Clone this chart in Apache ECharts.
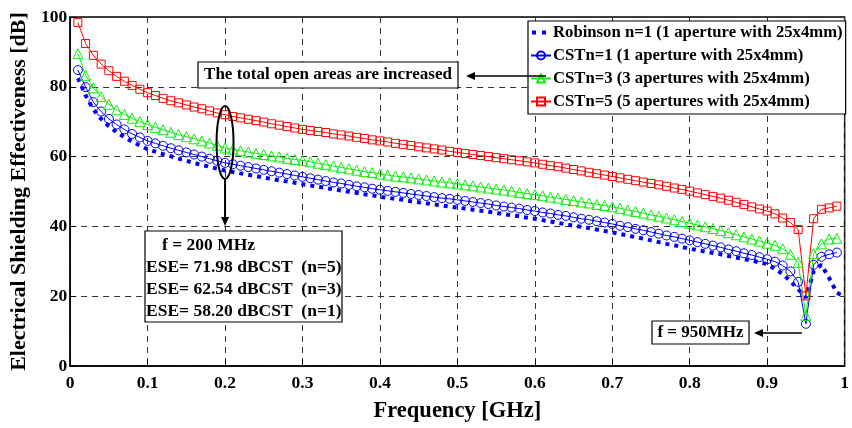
<!DOCTYPE html>
<html><head><meta charset="utf-8">
<script src="https://cdn.jsdelivr.net/npm/echarts@6/dist/echarts.min.js"></script>
<style>html,body{margin:0;padding:0;background:#fff}#c{width:852px;height:428px}</style>
</head><body><div id="c"></div><script>
// ---------- data ----------
const freq = [0.01,0.02,0.03,0.04,0.05,0.06,0.07,0.08,0.09,0.10,
0.11,0.12,0.13,0.14,0.15,0.16,0.17,0.18,0.19,0.20,
0.21,0.22,0.23,0.24,0.25,0.26,0.27,0.28,0.29,0.30,
0.31,0.32,0.33,0.34,0.35,0.36,0.37,0.38,0.39,0.40,
0.41,0.42,0.43,0.44,0.45,0.46,0.47,0.48,0.49,0.50,
0.51,0.52,0.53,0.54,0.55,0.56,0.57,0.58,0.59,0.60,
0.61,0.62,0.63,0.64,0.65,0.66,0.67,0.68,0.69,0.70,
0.71,0.72,0.73,0.74,0.75,0.76,0.77,0.78,0.79,0.80,
0.81,0.82,0.83,0.84,0.85,0.86,0.87,0.88,0.89,0.90,
0.91,0.92,0.93,0.94,0.95,0.96,0.97,0.98,0.99,1.00];

const robinson = [82.5,77.5,73.5,70.8,68.7,67.0,65.6,64.3,63.2,62.1,
61.4,60.7,60.1,59.4,58.8,58.2,57.6,57.1,56.5,56.0,
55.6,55.2,54.8,54.4,54.0,53.6,53.2,52.9,52.5,52.1,
51.7,51.4,51.0,50.6,50.3,49.9,49.6,49.2,48.9,48.5,
48.2,47.9,47.6,47.2,46.9,46.6,46.3,46.0,45.7,45.4,
45.1,44.8,44.5,44.2,43.9,43.5,43.2,42.9,42.5,42.2,
41.8,41.4,41.0,40.6,40.2,39.9,39.5,39.1,38.7,38.3,
37.8,37.4,36.9,36.5,36.0,35.5,35.0,34.6,34.1,33.6,
33.2,32.8,32.4,32.0,31.5,31.1,30.6,30.2,29.7,29.2,
27.8,26.4,24.3,22.0,19.6,27.1,29.0,25.2,21.0,19.8];

const cstN1 = [84.8,79.9,75.6,72.9,70.8,69.2,67.8,66.5,65.5,64.5,
63.8,63.1,62.4,61.8,61.2,60.6,60.0,59.4,58.8,58.2,
57.8,57.4,57.0,56.6,56.2,55.8,55.4,55.0,54.6,54.2,
53.8,53.4,53.0,52.6,52.3,51.9,51.5,51.2,50.8,50.5,
50.2,49.9,49.6,49.3,49.0,48.7,48.4,48.1,47.9,47.6,
47.3,47.0,46.7,46.4,46.0,45.7,45.4,45.1,44.7,44.4,
44.0,43.7,43.3,43.0,42.6,42.2,41.9,41.5,41.1,40.7,
40.2,39.8,39.3,38.9,38.4,37.9,37.4,37.0,36.5,36.0,
35.5,35.0,34.5,34.0,33.4,32.9,32.3,31.8,31.2,30.6,
29.9,28.8,27.1,24.1,12.1,29.0,31.3,32.0,32.5];

const cstN3 = [89.5,83.3,79.7,77.2,75.0,73.4,72.1,71.0,70.1,69.2,
68.4,67.7,67.0,66.3,65.7,65.1,64.5,63.9,63.2,62.5,
62.1,61.7,61.3,60.9,60.6,60.2,59.9,59.5,59.2,58.9,
58.5,58.1,57.7,57.3,56.9,56.5,56.1,55.7,55.4,55.0,
54.7,54.4,54.2,53.9,53.6,53.3,53.0,52.7,52.5,52.2,
51.9,51.6,51.3,51.0,50.7,50.4,50.1,49.7,49.4,49.1,
48.8,48.4,48.1,47.7,47.4,47.0,46.7,46.3,46.0,45.6,
45.2,44.7,44.3,43.8,43.3,42.9,42.4,41.9,41.4,40.9,
40.4,39.9,39.4,38.8,38.2,37.6,37.0,36.4,35.8,35.2,
34.6,33.6,32.0,29.7,14.5,32.2,35.0,36.4,36.6];

const cstN5 = [98.4,92.4,89.0,86.5,84.6,83.0,81.6,80.4,79.3,78.3,
77.5,76.7,76.0,75.4,74.8,74.2,73.7,73.1,72.5,72.0,
71.5,71.1,70.7,70.3,69.9,69.4,69.0,68.6,68.2,67.8,
67.5,67.2,66.9,66.5,66.2,65.9,65.5,65.2,64.8,64.5,
64.2,63.8,63.5,63.2,62.8,62.5,62.2,61.9,61.5,61.2,
60.9,60.6,60.3,60.0,59.7,59.4,59.1,58.8,58.5,58.2,
57.8,57.4,57.1,56.7,56.3,55.9,55.5,55.1,54.7,54.3,
53.9,53.5,53.1,52.7,52.3,51.9,51.5,51.0,50.6,50.1,
49.6,49.1,48.6,48.1,47.5,46.9,46.3,45.6,45.0,44.4,
43.6,42.4,41.1,39.1,20.1,42.2,44.9,45.3,45.8];

const xTickLabels = ['0','0.1','0.2','0.3','0.4','0.5','0.6','0.7','0.8','0.9','1'];
const yTickLabels = ['0','20','40','60','80','100'];
const seriesNames = [
  'Robinson n=1 (1 aperture with 25x4mm)',
  'CSTn=1 (1 aperture with 25x4mm)',
  'CSTn=3 (3 apertures with 25x4mm)',
  'CSTn=5 (5 apertures with 25x4mm)'
];
const annotationLines = ['f = 200 MHz','ESE= 71.98 dBCST  (n=5)','ESE= 62.54 dBCST  (n=3)','ESE= 58.20 dBCST  (n=1)'];

// ---------- chart ----------
const FONT = 'Liberation Serif';
const BLUE = '#0000ff', GREEN = '#11ee11', RED = '#ff0000';
const pairs = (vals) => vals.map((v, i) => [freq[i], v]);
const chart = echarts.init(document.getElementById('c'), null, {renderer: 'canvas'});

const gridLine = {show: true, lineStyle: {color: '#333', type: [6, 5], width: 1}};
const option = {
  animation: false,
  backgroundColor: '#fff',
  grid: {left: 67, right: 2, top: 17, bottom: 55, show: true, borderColor: '#000', borderWidth: 1.5, backgroundColor: 'transparent'},
  xAxis: {
    type: 'value', min: 0, max: 1, interval: 0.1,
    name: 'Frequency [GHz]', nameLocation: 'middle', nameGap: 34,
    nameTextStyle: {fontFamily: FONT, fontWeight: 'bold', fontSize: 22.5, color: '#000'},
    axisLine: {onZero: false, lineStyle: {color: '#000', width: 1.5}},
    axisTick: {inside: true, length: 6, lineStyle: {color: '#000'}},
    axisLabel: {fontFamily: FONT, fontWeight: 'bold', fontSize: 17.5, color: '#000', margin: 8,
      formatter: (v) => xTickLabels[Math.round(v * 10)]},
    splitLine: gridLine
  },
  yAxis: {
    type: 'value', min: 0, max: 100, interval: 20,
    name: 'Electrical Shielding Effectiveness [dB]', nameLocation: 'middle', nameGap: 38, nameRotate: 90,
    nameTextStyle: {fontFamily: FONT, fontWeight: 'bold', fontSize: 22, color: '#000'},
    axisLine: {show: true, lineStyle: {color: '#000', width: 1.5}},
    axisTick: {show: true, inside: true, length: 6, lineStyle: {color: '#000'}},
    axisLabel: {fontFamily: FONT, fontWeight: 'bold', fontSize: 17.5, color: '#000', margin: 3,
      formatter: (v) => yTickLabels[Math.round(v / 20)]},
    splitLine: gridLine
  },
  legend: {
    orient: 'vertical', left: 528, top: 21,
    backgroundColor: '#fff', borderColor: '#000', borderWidth: 1.2,
    padding: [3, 3, 4, 2], itemGap: 6, itemWidth: 20, itemHeight: 10,
    textStyle: {fontFamily: FONT, fontWeight: 'bold', fontSize: 16.7, color: '#000', padding: [0, 0, 0, -3]},
    data: [
      {name: seriesNames[0], icon: 'path://M0,0h0.05v0.05h-0.05zM1,3h4v4h-4zM11,3h4v4h-4zM19.95,9.95h0.05v0.05h-0.05z', itemStyle: {color: BLUE}},
      seriesNames[1], seriesNames[2], seriesNames[3]
    ]
  },
  series: [
    {name: seriesNames[0], type: 'line', data: pairs(robinson), showSymbol: false, symbol: 'none',
     lineStyle: {color: BLUE, width: 4, type: [4, 5], cap: 'butt'}, itemStyle: {color: BLUE}, z: 2},
    {name: seriesNames[1], type: 'line', data: pairs(cstN1), symbol: 'circle', symbolSize: 9,
     lineStyle: {color: BLUE, width: 1}, itemStyle: {color: 'rgba(0,0,0,0)', borderColor: BLUE, borderWidth: 1}, z: 3},
    {name: seriesNames[2], type: 'line', data: pairs(cstN3), symbol: 'triangle', symbolSize: 10,
     lineStyle: {color: GREEN, width: 1}, itemStyle: {color: 'rgba(0,0,0,0)', borderColor: GREEN, borderWidth: 1}, z: 3},
    {name: seriesNames[3], type: 'line', data: pairs(cstN5), symbol: 'rect', symbolSize: 8,
     lineStyle: {color: RED, width: 1}, itemStyle: {color: 'rgba(0,0,0,0)', borderColor: RED, borderWidth: 1}, z: 3}
  ]
};
chart.setOption(option);

// ---------- annotations ----------
const P = (x, y) => chart.convertToPixel({gridIndex: 0}, [x, y]);
const txt = {fontFamily: FONT, fontWeight: 'bold', fill: '#000'};
function arrow(x1, y1, x2, y2, w) {
  const ang = Math.atan2(y2 - y1, x2 - x1), L = 9, H = 4;
  const bx = x2 - L * Math.cos(ang), by = y2 - L * Math.sin(ang);
  return [
    {type: 'line', shape: {x1, y1, x2: bx, y2: by}, style: {stroke: '#000', lineWidth: w}, z: 20},
    {type: 'polygon', shape: {points: [[x2, y2], [bx + H * Math.sin(ang), by - H * Math.cos(ang)], [bx - H * Math.sin(ang), by + H * Math.cos(ang)]]}, style: {fill: '#000'}, z: 20}
  ];
}
const top200 = P(0.2, 74.5), bot200 = P(0.2, 53.6);
const dip = P(0.95, 11.5);
const g = [];
// box: the total open areas
g.push({type: 'rect', shape: {x: 198, y: 62, width: 260, height: 26}, style: {fill: '#fff', stroke: '#000', lineWidth: 1.2}, z: 20});
g.push({type: 'text', x: 328, y: 75, style: Object.assign({text: 'The total open areas are increased', fontSize: 17, align: 'center', verticalAlign: 'middle'}, txt), z: 21});
g.push(...arrow(546, 76, 466, 76, 1.5));
// ellipse at 200 MHz
g.push({type: 'ellipse', shape: {cx: top200[0], cy: (top200[1] + bot200[1]) / 2, rx: 8.5, ry: (bot200[1] - top200[1]) / 2}, style: {fill: 'none', stroke: '#000', lineWidth: 2}, z: 20});
g.push(...arrow(top200[0], bot200[1], top200[0], 226, 2));
// info box
g.push({type: 'rect', shape: {x: 145, y: 231, width: 197, height: 91}, style: {fill: '#fff', stroke: '#000', lineWidth: 1.2}, z: 20});
g.push({type: 'text', x: 162, y: 245, style: Object.assign({text: annotationLines[0], fontSize: 17.5, verticalAlign: 'middle'}, txt), z: 21});
[267, 289, 311].forEach((yy, i) => g.push({type: 'text', x: 146, y: yy, style: Object.assign({text: annotationLines[i + 1], fontSize: 17.5, verticalAlign: 'middle'}, txt), z: 21}));
// 950 MHz box
g.push({type: 'rect', shape: {x: 652, y: 321, width: 97, height: 23}, style: {fill: '#fff', stroke: '#000', lineWidth: 1.2}, z: 20});
g.push({type: 'text', x: 700.5, y: 333, style: Object.assign({text: 'f = 950MHz', fontSize: 17, align: 'center', verticalAlign: 'middle'}, txt), z: 21});
g.push(...arrow(dip[0] - 4, 333, 754, 333, 1.5));
chart.setOption({graphic: g});
</script></body></html>
